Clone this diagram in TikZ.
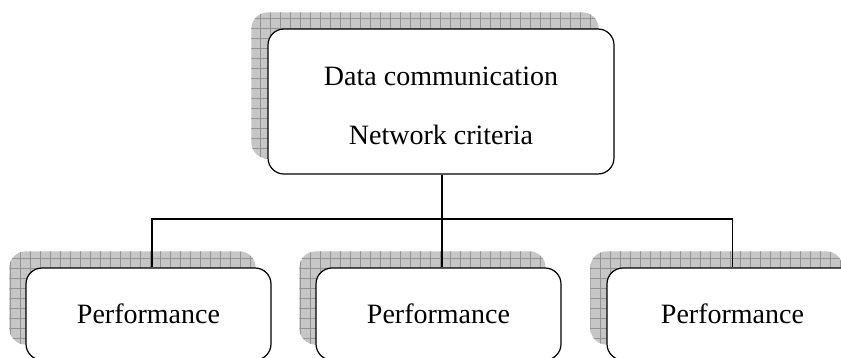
\documentclass[tikz,border=0pt]{standalone}
\usepackage{fontspec}
\setmainfont{Liberation Serif}
\usetikzlibrary{backgrounds,patterns.meta}

\tikzdeclarepattern{
  name=shadegrid,
  type=uncolored,
  bottom left={(-.1pt,-.1pt)},
  top right={(5.1pt,5.1pt)},
  tile size={(5pt,5pt)},
  code={\draw[line width=0.4pt] (0,0) -- (5pt,0) (0,0) -- (0,5pt);}
}

\begin{document}
\begin{tikzpicture}[x=0.5pt, y=-0.5pt,
    box/.style={draw, line width=0.6pt, rounded corners=8pt, fill=white,
      font=\fontsize{14}{29.5}\selectfont, align=center, inner sep=0pt},
    topbox/.style={box, minimum width=173pt, minimum height=72.5pt},
    leafbox/.style={box, minimum width=122.5pt, minimum height=46pt},
    shade/.style={fill=gray!45, postaction={pattern=shadegrid, pattern color=gray!85},
      rounded corners=8pt},
    link/.style={line width=0.6pt}]
  \useasboundingbox (0,0) rectangle (841,358);

  \node[topbox] (top) at (441,101.5)
    {\raisebox{0pt}[\dimexpr\height+4pt\relax]{Data communication}\\Network criteria};
  \node[leafbox] (left) at (148.5,314) {Performance};
  \node[leafbox] (mid) at (438.5,314) {Performance};
  \node[leafbox, minimum width=125.5pt] (right) at (732.5,314) {Performance};

  \begin{scope}[on background layer]
    \foreach \n in {top,left,mid,right}
      \path[shade] ([shift={(-16,-16)}]\n.south west) rectangle ([shift={(-16,-16)}]\n.north east);
  \end{scope}

  \coordinate (bus) at (442,219);
  \draw[link] ([xshift=0.5pt]top.south) -- (bus);
  \draw[link] ([xshift=1.75pt]left.north) |- (bus) -| (right.north);
  \draw[link] ([xshift=1.75pt]mid.north) -- ([xshift=1.75pt]mid.north |- bus);
\end{tikzpicture}
\end{document}
